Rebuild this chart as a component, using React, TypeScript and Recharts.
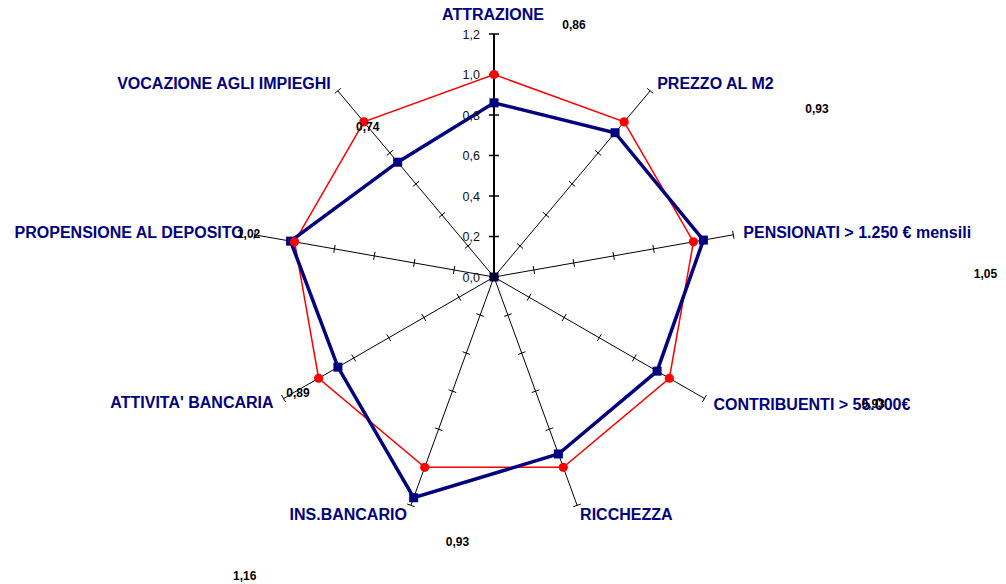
import React from 'react';
import { RadarChart, Radar, PolarAngleAxis, PolarRadiusAxis } from 'recharts';

const categories = [
  'ATTRAZIONE',
  'PREZZO AL M2',
  'PENSIONATI > 1.250 € mensili',
  'CONTRIBUENTI > 55.000€',
  'RICCHEZZA',
  'INS.BANCARIO',
  "ATTIVITA' BANCARIA",
  'PROPENSIONE AL DEPOSITO',
  'VOCAZIONE AGLI IMPIEGHI',
];
const indexValues = [0.86, 0.93, 1.05, 0.93, 0.93, 1.16, 0.89, 1.02, 0.74];
const referenceValues = [1, 1, 1, 1, 1, 1, 1, 1, 1];
const radiusTicks = [0, 0.2, 0.4, 0.6, 0.8, 1.0, 1.2];

const data = categories.map((c, i) => ({
  category: c,
  index: indexValues[i],
  reference: referenceValues[i],
}));

// layout (not data)
const W = 1006;
const H = 584;
const CX = 494;
const CY = 277;
const R = 243;
const MAX = 1.2;
const FONT = '"Liberation Sans", Arial, sans-serif';
const NAVY = '#000080';

const categoryLabelLayout = [
  { anchor: 'middle', dx: -1, dy: -14 },
  { anchor: 'start', dx: 7, dy: -2 },
  { anchor: 'start', dx: 10, dy: 3 },
  { anchor: 'start', dx: 9, dy: 11 },
  { anchor: 'start', dx: 3, dy: 15 },
  { anchor: 'end', dx: -4, dy: 15 },
  { anchor: 'end', dx: -10, dy: 9 },
  { anchor: 'end', dx: -11, dy: 3 },
  { anchor: 'end', dx: -7, dy: -2 },
];

const dataLabelOffsets = [
  { dx: 80, dy: -78 },
  { dx: 202, dy: -24 },
  { dx: 282, dy: 34 },
  { dx: 216, dy: 33 },
  { dx: -101, dy: 88 },
  { dx: -169, dy: 78 },
  { dx: -40, dy: 26 },
  { dx: -42, dy: -7 },
  { dx: -30, dy: -35 },
];

const fmt = (v: number, d: number) => v.toFixed(d).replace('.', ',');

const AngleTick = (props: any) => {
  const { payload, index } = props;
  const angle = payload.coordinate;
  const rad = (-angle * Math.PI) / 180;
  const ux = Math.cos(rad);
  const uy = Math.sin(rad);
  const ex = CX + R * ux;
  const ey = CY + R * uy;
  const px = -uy;
  const py = ux;
  const marks: any[] = [];
  if (index !== 0) {
    radiusTicks.slice(1).forEach((t, k) => {
      const r = (R * t) / MAX;
      const mx = CX + r * ux;
      const my = CY + r * uy;
      marks.push(
        <line key={k} x1={mx - 4 * px} y1={my - 4 * py} x2={mx + 4 * px} y2={my + 4 * py} stroke="#000" strokeWidth={1} />
      );
    });
  }
  const lay = categoryLabelLayout[index];
  return (
    <g>
      {index !== 0 && <line x1={CX} y1={CY} x2={ex} y2={ey} stroke="#000" strokeWidth={1} />}
      {marks}
      {index === 0 && <rect x={CX - 4.5} y={CY - 4.5} width={9} height={9} fill={NAVY} />}
      <text
        x={ex + lay.dx}
        y={ey + lay.dy}
        textAnchor={lay.anchor as any}
        fill={NAVY}
        fontFamily={FONT}
        fontWeight="bold"
        fontSize={16}
      >
        {payload.value}
      </text>
    </g>
  );
};

const RadiusTick = (props: any) => {
  const { x, y, payload } = props;
  return (
    <g>
      <line x1={x - 5} y1={y} x2={x + 5} y2={y} stroke="#000" strokeWidth={1.5} />
      <text x={x - 14} y={y + 4.5} textAnchor="end" fill="#111" fontFamily={FONT} fontSize={12.5}>
        {fmt(payload.value, 1)}
      </text>
    </g>
  );
};

const SquareDot = (props: any) => {
  const { cx, cy, index } = props;
  return <rect key={`sq-${index}`} x={cx - 4.5} y={cy - 4.5} width={9} height={9} fill={NAVY} />;
};

const CircleDot = (props: any) => {
  const { cx, cy, index } = props;
  return <circle key={`ci-${index}`} cx={cx} cy={cy} r={4.6} fill="#FF0000" />;
};

const LabelDot = (props: any) => {
  const { cx, cy, index } = props;
  const off = dataLabelOffsets[index];
  const v = indexValues[index];
  return (
    <text
      key={`lb-${index}`}
      x={cx + off.dx}
      y={cy + off.dy + 4}
      textAnchor="middle"
      fill="#000"
      fontFamily={FONT}
      fontWeight="bold"
      fontSize={12}
    >
      {fmt(v, 2)}
    </text>
  );
};

export default function App() {
  return (
    <div style={{ position: 'absolute', left: 0, top: 0, width: W, height: H, background: '#fff' }}>
      <RadarChart
        width={W}
        height={H}
        data={data}
        cx={CX}
        cy={CY}
        outerRadius={R}
        startAngle={90}
        endAngle={-270}
        margin={{ top: 0, right: 0, bottom: 0, left: 0 }}
      >
        <PolarAngleAxis dataKey="category" tick={AngleTick} tickLine={false} axisLine={false} />
        <PolarRadiusAxis
          angle={90}
          type="number"
          domain={[0, MAX]}
          ticks={radiusTicks as any}
          tickCount={7}
          tick={RadiusTick}
          axisLine={{ stroke: '#000', strokeWidth: 2 }}
        />
        <Radar dataKey="reference" stroke="#FF0000" strokeWidth={1.5} fill="none" fillOpacity={0} dot={false} isAnimationActive={false} />
        <Radar dataKey="index" stroke={NAVY} strokeWidth={3.5} fill="none" fillOpacity={0} dot={false} isAnimationActive={false} />
        <Radar dataKey="index" stroke="none" fill="none" fillOpacity={0} dot={SquareDot} isAnimationActive={false} />
        <Radar dataKey="reference" stroke="none" fill="none" fillOpacity={0} dot={CircleDot} isAnimationActive={false} />
        <Radar dataKey="index" stroke="none" fill="none" fillOpacity={0} dot={LabelDot} isAnimationActive={false} />
      </RadarChart>
    </div>
  );
}
